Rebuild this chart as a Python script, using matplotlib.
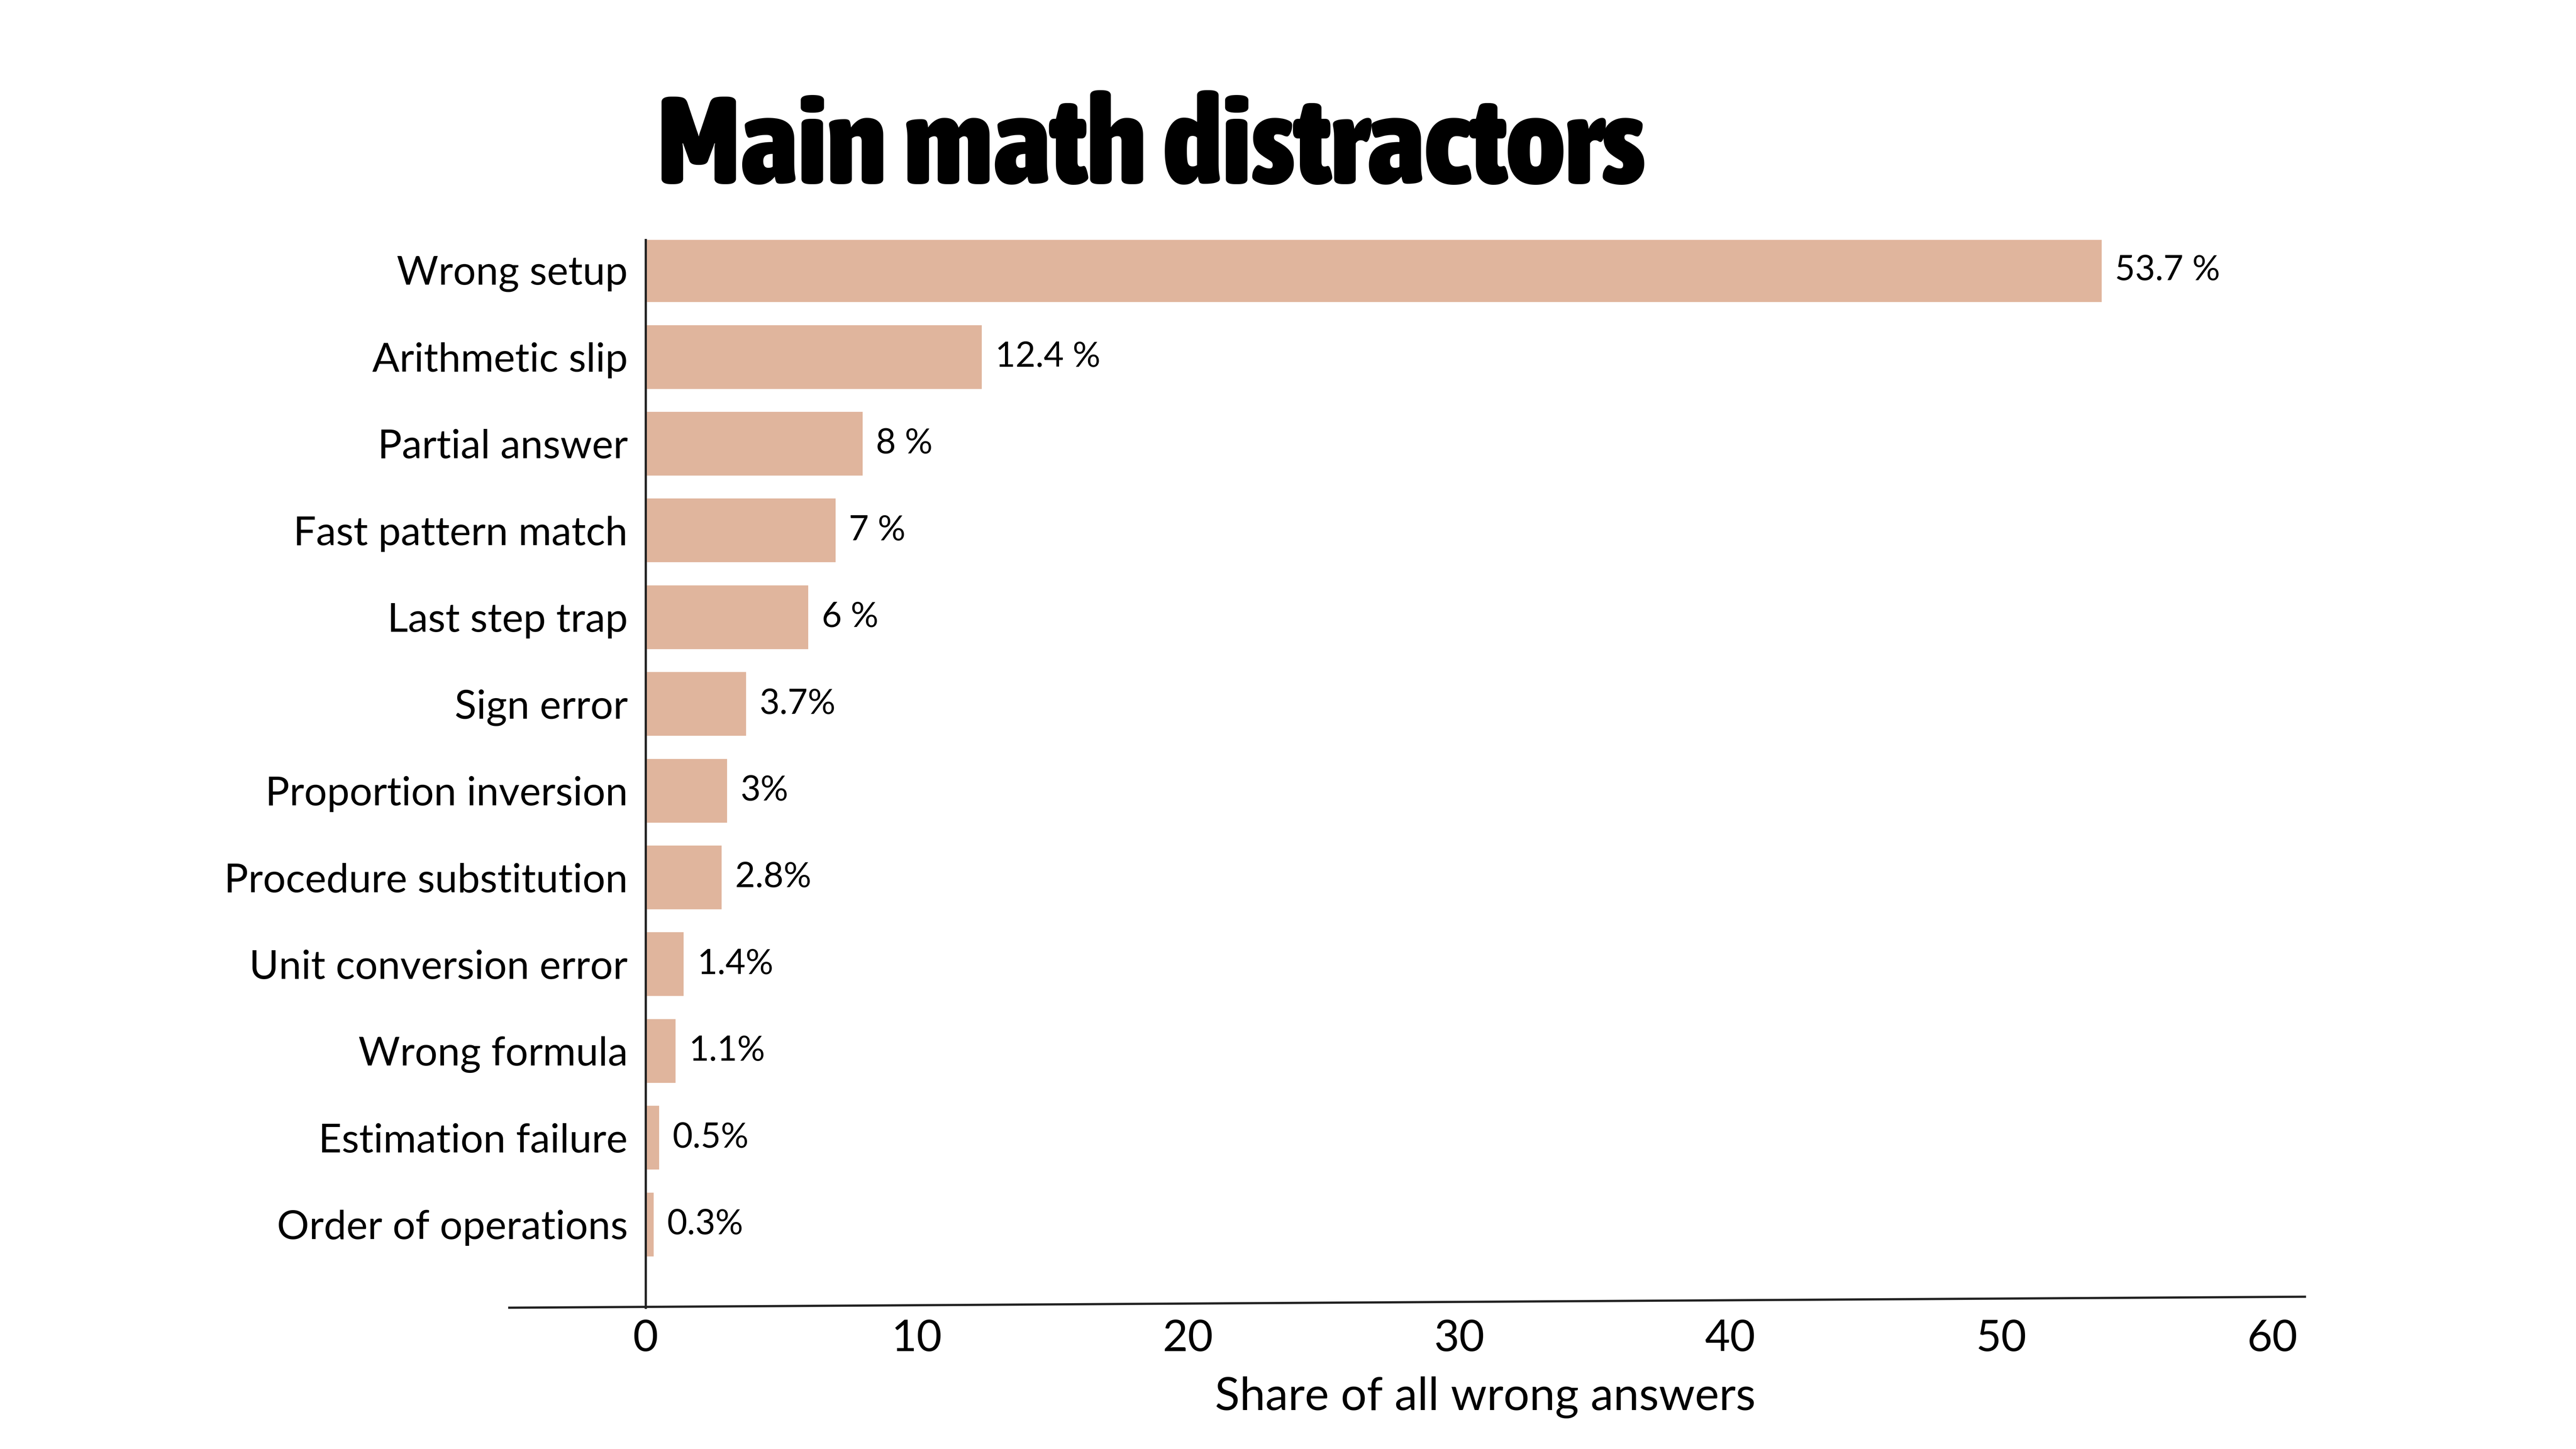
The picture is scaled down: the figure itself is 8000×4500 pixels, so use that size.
import matplotlib
matplotlib.use("Agg")
import matplotlib.pyplot as plt
from matplotlib.lines import Line2D
from matplotlib import font_manager as fm

categories = ["Wrong setup", "Arithmetic slip", "Partial answer", "Fast pattern match",
              "Last step trap", "Sign error", "Proportion inversion", "Procedure substitution",
              "Unit conversion error", "Wrong formula", "Estimation failure", "Order of operations"]
values = [53.7, 12.4, 8, 7, 6, 3.7, 3, 2.8, 1.4, 1.1, 0.5, 0.3]
value_labels = ["53.7 %", "12.4 %", "8 %", "7 %", "6 %", "3.7%", "3%", "2.8%",
                "1.4%", "1.1%", "0.5%", "0.3%"]
xticks = [0, 10, 20, 30, 40, 50, 60]
title = "Main math distractors"
xlabel = "Share of all wrong answers"

BAR = "#E0B59D"
BODY = ["Lato", "DejaVu Sans"]


def weight_num(w):
    if isinstance(w, (int, float)):
        return w
    return {"ultralight": 200, "light": 300, "normal": 400, "regular": 400, "book": 400,
            "medium": 500, "semibold": 600, "demibold": 600, "bold": 700,
            "heavy": 800, "extra bold": 800, "black": 900}.get(str(w).lower(), 400)


def pick_title_font():
    best = None
    for f in fm.fontManager.ttflist:
        name = f.name.lower()
        fn = f.fname.lower()
        narrow = ("narrow" in name or "condensed" in name or "narrow" in fn
                  or "condensed" in fn or "compressed" in fn
                  or str(f.stretch) in ("condensed", "semi-condensed", "extra-condensed",
                                        "ultra-condensed") or
                  (isinstance(f.stretch, int) and f.stretch < 500))
        w = weight_num(f.weight)
        if f.style != "normal":
            continue
        score = (2 if narrow else 0) + w / 1000.0
        if best is None or score > best[0]:
            best = (score, f.fname)
    return fm.FontProperties(fname=best[1])


fig = plt.figure(figsize=(16, 9), dpi=500)
ax = fig.add_axes([310/1568, 1-796/882, (1403-310)/1568, (796-146)/882])

ypos = list(range(len(categories)))
ax.barh(ypos, values, height=0.735, color=BAR, zorder=2)
ax.set_xlim(-5.03, 61.2)
ax.set_ylim(11.96, -0.35)

for s in ["top", "right", "bottom"]:
    ax.spines[s].set_visible(False)
ax.spines["left"].set_position(("data", 0))
ax.spines["left"].set_linewidth(1.0)
ax.spines["left"].set_color("#222222")
ax.spines["left"].set_zorder(3)

ax.set_yticks(ypos)
ax.set_yticklabels(categories, family=BODY, fontsize=18, color="black")
ax.tick_params(axis="y", length=0, pad=8)
ax.set_xticks(xticks)
ax.set_xticklabels([str(t) for t in xticks], family=BODY, fontsize=19.5, color="black")
ax.tick_params(axis="x", length=0, pad=5)

# slightly tilted baseline
ax.add_line(Line2D([0, 1], [0, 0.0103], transform=ax.transAxes, color="#222222",
                   linewidth=1.0, clip_on=False, zorder=3))

for y, v, lab in zip(ypos, values, value_labels):
    ax.annotate(lab, xy=(v, y), xytext=(6, 0), textcoords="offset points",
                ha="left", va="center", family=BODY, fontsize=15.5, color="black")

ax.set_xlabel(xlabel, family=BODY, fontsize=20.5, color="black", labelpad=8)
ax.xaxis.label.set_x((904 - 310) / 1093)

# title: fit towards reference extent
fp = pick_title_font()
fp.set_size(51)
t = fig.text(400/1568, 1-112/882, title, ha="left", va="baseline",
             fontproperties=fp, color="black")
fig.canvas.draw()
r = fig.canvas.get_renderer()
bb = t.get_window_extent(renderer=r)
target_w = (1054 - 400) / 1568 * fig.bbox.width
size_w = 51 * target_w / bb.width
new_size = (51 * size_w) ** 0.5
fp.set_size(new_size)
t.set_fontproperties(fp)

fig.savefig("out.png", dpi=500, facecolor="white")
